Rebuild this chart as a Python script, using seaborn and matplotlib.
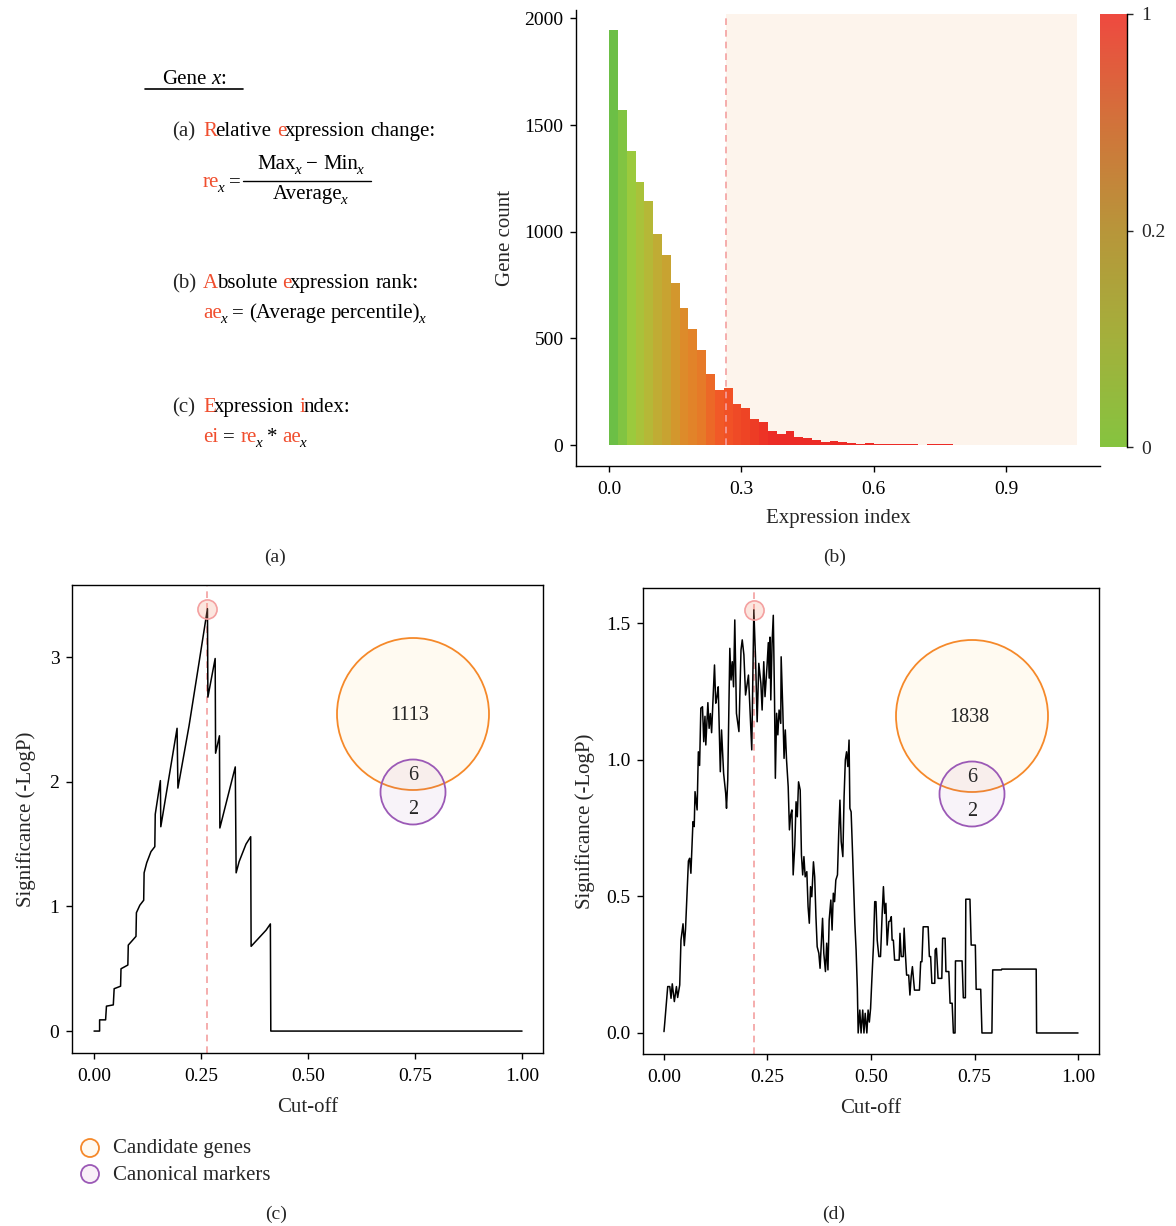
import numpy as np
import pandas as pd
import matplotlib
matplotlib.use('Agg')
import matplotlib.pyplot as plt
from matplotlib.colors import LinearSegmentedColormap
from matplotlib.patches import Circle, Rectangle
import seaborn as sns

# ── Data ───────────────────────────────────────────────────────────────────────
# (b) histogram of expression index, bins of 0.02 starting at 0
bin_width = 0.02
gene_counts = [1945, 1570, 1378, 1233, 1144, 989, 891, 759, 642, 544,
               445, 333, 258, 267, 192, 173, 122, 108, 66, 52,
               66, 38, 33, 23, 14, 19, 14, 9, 5, 9,
               5, 5, 5, 4, 4, 1, 3, 3, 3, 2,
               2, 0, 1, 1, 2, 2, 1, 0, 1, 2,
               1, 2, 1]
ei_cutoff = 0.265
ei_max = 1.06

# (c) significance vs cut-off
cut_c = [0.000, 0.013, 0.013, 0.027, 0.029, 0.045, 0.047, 0.062, 0.063, 0.079,
         0.080, 0.098, 0.099, 0.107, 0.116, 0.117, 0.123, 0.133, 0.142, 0.143,
         0.155, 0.156, 0.194, 0.196, 0.222, 0.245, 0.265, 0.266, 0.283, 0.284,
         0.293, 0.294, 0.330, 0.332, 0.339, 0.355, 0.366, 0.367, 0.402, 0.412,
         0.413, 1.000]
sig_c = [0.00, 0.00, 0.09, 0.09, 0.20, 0.21, 0.34, 0.36, 0.50, 0.53,
         0.69, 0.76, 0.95, 1.01, 1.05, 1.27, 1.35, 1.44, 1.48, 1.74,
         2.01, 1.64, 2.43, 1.95, 2.45, 2.95, 3.39, 2.68, 2.99, 2.23,
         2.37, 1.63, 2.12, 1.27, 1.36, 1.50, 1.56, 0.68, 0.81, 0.86,
         0.00, 0.00]

# (d) significance vs cut-off
cut_d = [0.000, 0.002, 0.009, 0.014, 0.017, 0.020, 0.025, 0.030, 0.033, 0.038,
         0.041, 0.046, 0.049, 0.052, 0.059, 0.062, 0.065, 0.070, 0.073, 0.075,
         0.080, 0.083, 0.086, 0.089, 0.093, 0.096, 0.099, 0.101, 0.106, 0.109,
         0.112, 0.115, 0.122, 0.125, 0.128, 0.131, 0.136, 0.139, 0.144, 0.149,
         0.151, 0.154, 0.159, 0.162, 0.165, 0.168, 0.171, 0.175, 0.181, 0.186,
         0.189, 0.193, 0.197, 0.204, 0.207, 0.212, 0.217, 0.221, 0.225, 0.229,
         0.234, 0.237, 0.241, 0.244, 0.249, 0.252, 0.254, 0.256, 0.258, 0.261,
         0.264, 0.267, 0.269, 0.272, 0.275, 0.278, 0.282, 0.283, 0.287, 0.290,
         0.293, 0.296, 0.300, 0.303, 0.306, 0.309, 0.312, 0.316, 0.319, 0.322,
         0.325, 0.329, 0.332, 0.335, 0.338, 0.341, 0.345, 0.348, 0.351, 0.354,
         0.357, 0.361, 0.364, 0.367, 0.370, 0.374, 0.377, 0.380, 0.383, 0.386,
         0.390, 0.393, 0.396, 0.399, 0.403, 0.406, 0.409, 0.412, 0.415, 0.419,
         0.422, 0.425, 0.428, 0.432, 0.435, 0.438, 0.441, 0.444, 0.447, 0.449,
         0.452, 0.456, 0.461, 0.464, 0.467, 0.469, 0.473, 0.476, 0.480, 0.483,
         0.486, 0.490, 0.493, 0.496, 0.499, 0.502, 0.506, 0.509, 0.512, 0.515,
         0.519, 0.523, 0.527, 0.530, 0.533, 0.536, 0.539, 0.543, 0.546, 0.549,
         0.551, 0.554, 0.557, 0.568, 0.570, 0.573, 0.578, 0.580, 0.583, 0.586,
         0.591, 0.594, 0.597, 0.600, 0.604, 0.605, 0.617, 0.620, 0.623, 0.626,
         0.638, 0.641, 0.644, 0.647, 0.654, 0.655, 0.658, 0.662, 0.671, 0.673,
         0.679, 0.681, 0.688, 0.691, 0.696, 0.699, 0.703, 0.704, 0.720, 0.723,
         0.728, 0.729, 0.739, 0.742, 0.752, 0.754, 0.765, 0.768, 0.792, 0.794,
         0.815, 0.816, 0.899, 0.900, 1.000]
sig_d = [0.005, 0.04, 0.17, 0.17, 0.127, 0.18, 0.115, 0.17, 0.13, 0.176,
         0.34, 0.40, 0.32, 0.38, 0.63, 0.64, 0.585, 0.774, 0.756, 0.884,
         0.817, 1.03, 0.98, 1.19, 1.195, 1.067, 1.16, 1.055, 1.21, 1.116,
         1.17, 1.10, 1.348, 1.208, 1.232, 1.268, 0.957, 1.11, 0.951, 0.878,
         0.823, 0.927, 1.409, 1.293, 1.36, 1.268, 1.513, 1.171, 1.104, 1.403,
         1.44, 1.385, 1.238, 1.311, 1.208, 1.037, 1.55, 1.378, 1.14, 1.354,
         1.281, 1.183, 1.36, 1.232, 1.348, 1.43, 1.30, 1.45, 1.22, 1.427,
         1.53, 1.22, 0.933, 1.171, 1.092, 1.183, 1.134, 1.378, 1.183, 1.006,
         1.11, 1.0, 0.902, 0.744, 0.799, 0.817, 0.579, 0.689, 0.847, 0.792,
         0.92, 0.89, 0.652, 0.579, 0.646, 0.572, 0.591, 0.463, 0.402, 0.536,
         0.499, 0.627, 0.572, 0.426, 0.316, 0.292, 0.237, 0.329, 0.42, 0.292,
         0.225, 0.329, 0.231, 0.414, 0.487, 0.377, 0.512, 0.481, 0.56, 0.579,
         0.731, 0.853, 0.701, 0.646, 0.866, 1.0, 1.03, 0.976, 1.073, 0.823,
         0.81, 0.634, 0.402, 0.304, 0.164, 0.0, 0.084, 0.0, 0.084, 0.0,
         0.072, 0.0, 0.084, 0.04, 0.09, 0.194, 0.322, 0.481, 0.481, 0.34,
         0.28, 0.28, 0.438, 0.536, 0.438, 0.475, 0.322, 0.408, 0.41, 0.426,
         0.34, 0.34, 0.267, 0.267, 0.365, 0.28, 0.28, 0.384, 0.292, 0.212,
         0.212, 0.139, 0.206, 0.243, 0.176, 0.157, 0.157, 0.261, 0.261, 0.389,
         0.389, 0.28, 0.28, 0.182, 0.182, 0.304, 0.31, 0.2, 0.2, 0.347,
         0.347, 0.225, 0.225, 0.109, 0.109, 0.0, 0.0, 0.264, 0.264, 0.129,
         0.129, 0.49, 0.49, 0.322, 0.322, 0.16, 0.16, 0.0, 0.0, 0.231,
         0.231, 0.234, 0.234, 0.0, 0.0]

# Venn counts: [candidate only, overlap, canonical only]
venn_c = [1113, 6, 2]
venn_d = [1838, 6, 2]

# ── Style ──────────────────────────────────────────────────────────────────────
sns.set_theme(style='ticks')
plt.rcParams['font.family'] = ['Liberation Serif', 'DejaVu Serif']

RED = '#f04e2e'
ORANGE = '#f5892a'
PURPLE = '#9b59b6'
PINK = '#f4a0a0'
W, H = 1176, 1226
TICK_FS = 14
LABEL_FS = 15

bar_stops = [0.0, 0.04, 0.08, 0.12, 0.16, 0.20, 0.24, 0.30, 0.36, 1.06]
bar_hex = ['#6cbf46', '#9ecb3c', '#b6b737', '#caa130', '#de8a2a',
           '#e67a28', '#f25627', '#ee4425', '#ec2b26', '#ec2b26']
bar_cmap = LinearSegmentedColormap.from_list(
    'ei', [(s / ei_max, c) for s, c in zip(bar_stops, bar_hex)])
bar_cmap_bar = LinearSegmentedColormap.from_list(
    'ei_bar', ['#86c440', '#a4b03c', '#b8963a', '#d2733b', '#ef4a40'])

fig = plt.figure(figsize=(W / 100, H / 100), dpi=100)


def add_ax(l, t, r, b):
    return fig.add_axes([l / W, 1 - b / H, (r - l) / W, (b - t) / H])


def style_axis(ax, box=False):
    for side in ['top', 'right']:
        ax.spines[side].set_visible(box)
    for sp in ax.spines.values():
        sp.set_color('black')
        sp.set_linewidth(1.0)
    ax.tick_params(direction='out', length=4, width=1, colors='black',
                   labelsize=TICK_FS, pad=5)
    ax.tick_params(axis='x', pad=7)


# ── (b) Histogram ──────────────────────────────────────────────────────────────
ax_b = add_ax(576, 10, 1100, 466)
edges = [round(i * bin_width, 2) for i in range(len(gene_counts) + 1)]
hist_df = pd.DataFrame({'ei': [e + bin_width / 2 for e in edges[:-1]],
                        'n': gene_counts})
sns.histplot(data=hist_df, x='ei', weights='n', bins=edges, ax=ax_b,
             linewidth=0, alpha=1)
for patch in ax_b.patches:
    patch.set_facecolor(bar_cmap(patch.get_x() / ei_max))
    patch.set_edgecolor('none')
ax_b.add_patch(Rectangle((ei_cutoff, 0), ei_max - ei_cutoff, 2020,
                         facecolor='#fdf4ec', edgecolor='none', zorder=0))
ax_b.plot([ei_cutoff, ei_cutoff], [0, 2020], color=PINK, lw=1.2,
          dashes=(4, 3), zorder=3)
ax_b.set_xlim(-0.075, 1.113)
ax_b.set_ylim(-98, 2039)
ax_b.set_xticks([0, 0.3, 0.6, 0.9])
ax_b.set_xticklabels(['0.0', '0.3', '0.6', '0.9'])
ax_b.set_yticks([0, 500, 1000, 1500, 2000])
ax_b.set_xlabel('Expression index', fontsize=LABEL_FS, labelpad=8)
ax_b.set_ylabel('Gene count', fontsize=LABEL_FS, labelpad=7)
style_axis(ax_b)

cax = add_ax(1100, 14, 1127, 447)
cax.imshow(np.linspace(0, 1, 256)[:, None], aspect='auto', origin='lower',
           cmap=bar_cmap_bar, extent=[0, 1, 0, 1])
for side in ['top', 'left', 'bottom']:
    cax.spines[side].set_visible(False)
cax.spines['right'].set_linewidth(1.0)
cax.spines['right'].set_color('black')
cax.set_xticks([])
cax.yaxis.tick_right()
cax.set_yticks([0, 0.5, 1])
cax.set_yticklabels(['0', '0.2', '1'])
cax.tick_params(axis='y', direction='out', length=4, width=1,
                labelsize=TICK_FS, pad=6)


# ── (c), (d) Significance curves ───────────────────────────────────────────────
def sig_panel(ax, cut, sig, xlim, ylim, yticks, ylabels, ypad):
    sns.lineplot(x=cut, y=sig, ax=ax, color='black', linewidth=1.1,
                 estimator=None, sort=False)
    best = int(np.argmax(sig))
    ax.axvline(cut[best], color=PINK, lw=1.2, dashes=(4, 3), zorder=1)
    ax.scatter([cut[best]], [sig[best]], s=190, facecolor=(0.97, 0.62, 0.5, 0.25),
               edgecolor=PINK, linewidth=1.2, zorder=4)
    ax.set_xlim(*xlim)
    ax.set_ylim(*ylim)
    ax.set_xticks([0, 0.25, 0.5, 0.75, 1.0])
    ax.set_xticklabels(['0.00', '0.25', '0.50', '0.75', '1.00'])
    ax.set_yticks(yticks)
    ax.set_yticklabels(ylabels)
    ax.set_xlabel('Cut-off', fontsize=LABEL_FS, labelpad=9)
    ax.set_ylabel('Significance (-LogP)', fontsize=LABEL_FS, labelpad=ypad)
    style_axis(ax, box=True)


ax_c = add_ax(72, 585, 543, 1053)
sig_panel(ax_c, cut_c, sig_c, (-0.0515, 1.049), (-0.176, 3.58),
          [0, 1, 2, 3], ['0', '1', '2', '3'], 10)
ax_d = add_ax(643, 588, 1099, 1054)
sig_panel(ax_d, cut_d, sig_d, (-0.0507, 1.0507), (-0.077, 1.63),
          [0, 0.5, 1.0, 1.5], ['0.0', '0.5', '1.0', '1.5'], 8)

# ── Overlay in pixel coordinates: formulas, Venns, legend, panel tags ─────────
ov = fig.add_axes([0, 0, 1, 1], zorder=10)
ov.set_xlim(0, W)
ov.set_ylim(H, 0)
ov.axis('off')
ov.patch.set_visible(False)
renderer = fig.canvas.get_renderer()

FS_A = 15


def width_of(s, size):
    t = ov.text(0, 0, s, fontsize=size)
    w = t.get_window_extent(renderer).width
    t.remove()
    return w


SPACE = width_of('a a', FS_A) - width_of('aa', FS_A)


def runs(x, y, parts, size=FS_A, ha='left'):
    made = []
    x0 = x
    for i, p in enumerate(parts):
        s, c = p[0], p[1]
        kind = p[2] if len(p) > 2 else 'n'
        if s == ' ':
            x += SPACE
            continue
        if kind == 'sub':
            x -= 2
            t = ov.text(x, y + 5, s, color=c, fontsize=size * 0.72,
                        style='italic', va='baseline')
        elif kind == 'it':
            t = ov.text(x, y, s, color=c, fontsize=size, style='italic',
                        va='baseline')
        else:
            t = ov.text(x, y, s, color=c, fontsize=size, va='baseline')
        x += t.get_window_extent(renderer).width
        nxt = parts[i + 1] if i + 1 < len(parts) else None
        if kind == 'n' and nxt is not None and nxt[0] != ' ' \
                and (len(nxt) < 3 or nxt[2] == 'n'):
            x -= 1.5
        made.append(t)
    if ha == 'center':
        shift = (x - x0) / 2
        for t in made:
            tx, ty = t.get_position()
            t.set_position((tx - shift, ty))
    return x


K = 'black'
runs(162, 84, [('Gene', K), (' ', K), ('x', K, 'it'), (':', K)])
ov.plot([145, 243], [89, 89], color=K, lw=1.2)

ov.text(172, 136, '(a)', fontsize=FS_A, va='baseline')
runs(203, 136, [('R', RED), ('elative', K), (' ', K), ('e', RED),
                ('xpression', K), (' ', K), ('change:', K)])
xe = runs(203, 187, [('re', RED), ('x', K, 'sub'), (' ', K), ('=', K)])
ov.plot([xe + 2, 371], [181, 181], color=K, lw=1.0)
runs(310, 169, [('Max', K), ('x', K, 'sub'), (' ', K), ('\u2212', K), (' ', K),
                ('Min', K), ('x', K, 'sub')], ha='center')
runs(310, 199, [('Average', K), ('x', K, 'sub')], ha='center')

ov.text(172, 288, '(b)', fontsize=FS_A, va='baseline')
runs(203, 288, [('A', RED), ('bsolute', K), (' ', K), ('e', RED),
                ('xpression', K), (' ', K), ('rank:', K)])
runs(203, 318, [('ae', RED), ('x', K, 'sub'), (' ', K), ('=', K), (' ', K),
                ('(Average', K), (' ', K), ('percentile)', K), ('x', K, 'sub')])

ov.text(172, 412, '(c)', fontsize=FS_A, va='baseline')
runs(203, 412, [('E', RED), ('xpression', K), (' ', K), ('i', RED),
                ('ndex:', K)])
runs(203, 442, [('ei', RED), (' ', K), ('=', K), (' ', K), ('re', RED),
                ('x', K, 'sub'), (' ', K), ('*', K), (' ', K), ('ae', RED),
                ('x', K, 'sub')])


def venn(cx, cy, counts):
    ov.add_patch(Circle((cx, cy), 76, facecolor='#fffaf1', edgecolor=ORANGE,
                        lw=1.3, zorder=2))
    ov.add_patch(Circle((cx, cy + 78), 32.5, facecolor=(0.61, 0.35, 0.71, 0.07),
                        edgecolor=PURPLE, lw=1.3, zorder=3))
    ov.text(cx - 3, cy + 1, f'{counts[0]}', fontsize=14.5, ha='center',
            va='center', zorder=4)
    ov.text(cx, cy + 61, f'{counts[1]}', fontsize=14.5, ha='center',
            va='center', zorder=4)
    ov.text(cx, cy + 96, f'{counts[2]}', fontsize=14.5, ha='center',
            va='center', zorder=4)


venn(413, 714, venn_c)
venn(972, 716, venn_d)

# legend
ov.add_patch(Circle((90, 1148), 9, facecolor='#fffaf1', edgecolor=ORANGE, lw=1.3))
ov.add_patch(Circle((90, 1174), 9, facecolor='#f9f0f8', edgecolor=PURPLE, lw=1.3))
ov.text(113, 1149, 'Candidate genes', fontsize=LABEL_FS, va='center')
ov.text(113, 1175, 'Canonical markers', fontsize=LABEL_FS, va='center')

for tag, x, y in [('(a)', 275, 557), ('(b)', 835, 557),
                  ('(c)', 276, 1214), ('(d)', 834, 1214)]:
    ov.text(x, y, tag, fontsize=14, ha='center', va='center')

fig.savefig('out.png', dpi=100)
